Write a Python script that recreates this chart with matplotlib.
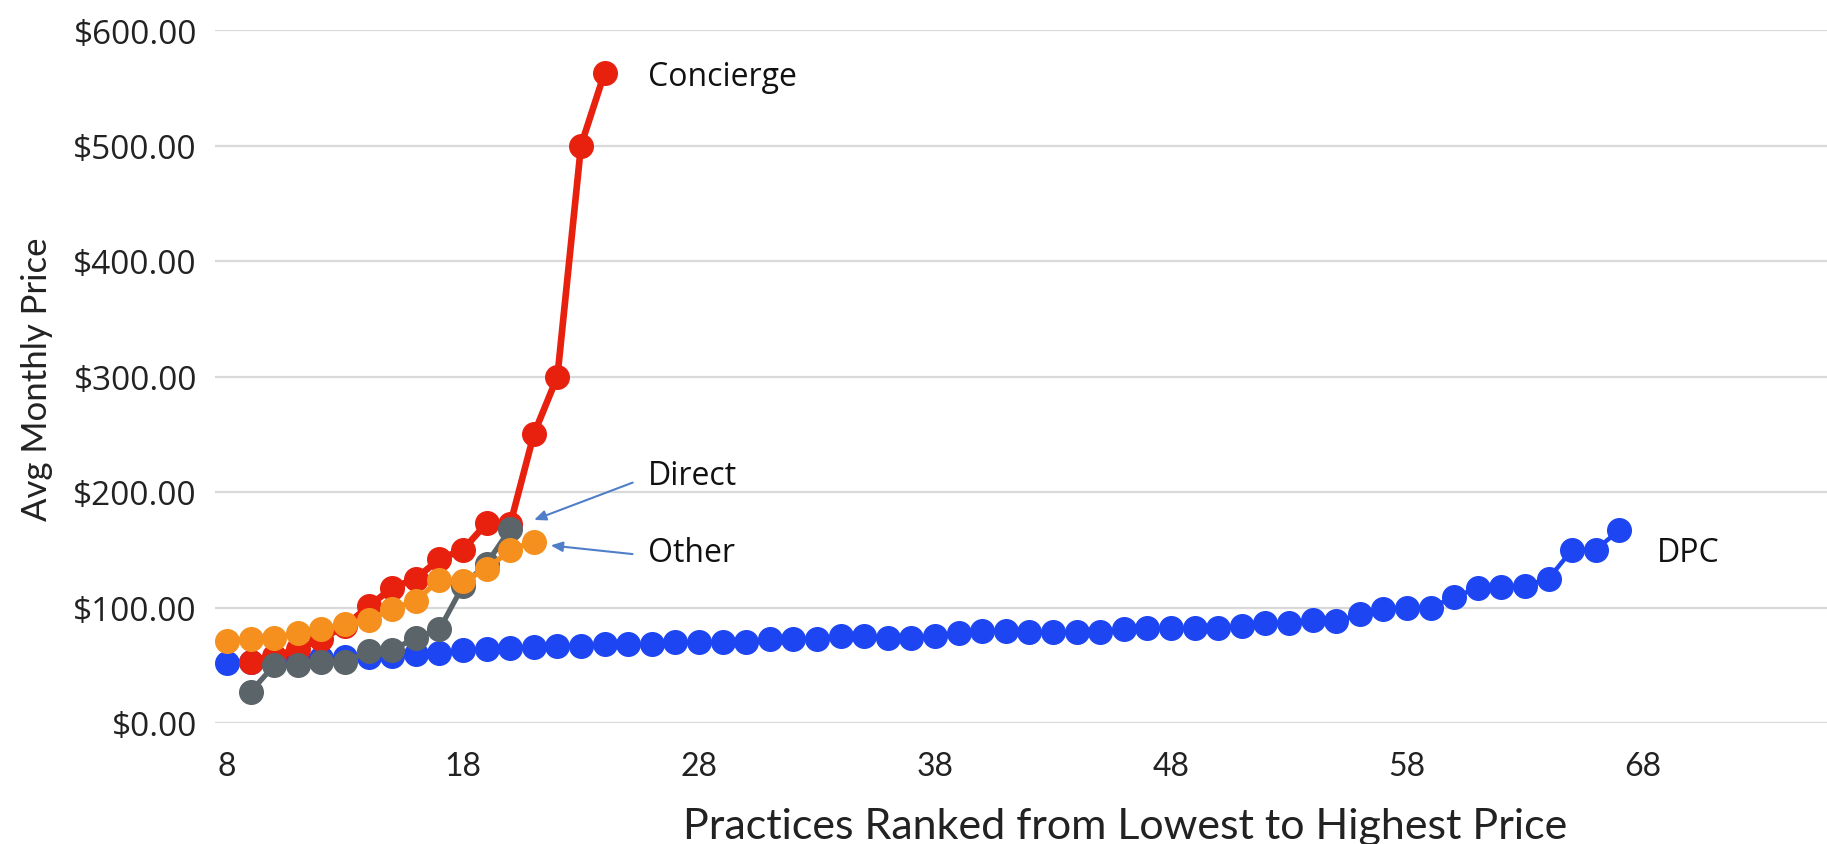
import matplotlib
matplotlib.use("Agg")
import matplotlib.pyplot as plt

# practice rank -> average monthly price, one list per practice type
dpc_rank = list(range(8, 68))
dpc_price = [52, 53, 54, 55, 56, 57, 57, 58, 60, 61, 63, 64, 65, 66,
             67, 67, 68, 68, 68, 70, 70, 70, 70, 73, 73, 73, 75, 75, 74, 74,
             75, 78, 80, 80, 79, 79, 79, 79, 81, 82, 82, 82, 82, 84, 87, 87,
             89, 88, 94, 99, 100, 100, 109, 117, 118, 119, 125, 150, 150, 167]

concierge_rank = list(range(9, 25))
concierge_price = [53, 58, 64, 73, 84, 101, 117, 125, 142, 150, 173, 172,
                   250, 300, 500, 563]

direct_rank = list(range(9, 21))
direct_price = [27, 50, 50, 53, 53, 62, 63, 74, 81, 119, 138, 168]

other_rank = list(range(8, 22))
other_price = [71, 73, 74, 78, 81, 86, 89, 99, 106, 124, 123, 133, 150, 157]

x_ticks = [8, 18, 28, 38, 48, 58, 68]
y_ticks = [0, 100, 200, 300, 400, 500, 600]

W, H = 1827, 845
fig = plt.figure(figsize=(W / 100, H / 100), dpi=100)
ax = fig.add_axes([215 / W, 1 - 724 / H, 1 - 215 / W, (724 - 31) / H])

ms = 17
ax.plot(dpc_rank, dpc_price, color="#1d46f2", lw=3.2, marker="o", ms=ms, zorder=3)
ax.plot(concierge_rank, concierge_price, color="#e8210f", lw=4.8, marker="o", ms=ms, zorder=4)
ax.plot(direct_rank, direct_price, color="#5b6469", lw=3.8, marker="o", ms=ms, zorder=5)
ax.plot(other_rank, other_price, color="#f5901f", lw=3.8, marker="o", ms=ms, zorder=6)

ax.set_xlim(7.49, 75.8)
ax.set_ylim(0, 600)
ax.set_xticks(x_ticks)
ax.set_xticklabels([str(t) for t in x_ticks], family="Lato", fontsize=23)
ax.set_yticks(y_ticks)
ax.set_yticklabels([f"${v:.2f}" for v in y_ticks], family="Open Sans", fontsize=24)
ax.tick_params(axis="both", length=0, colors="#222222")
ax.tick_params(axis="x", pad=20)
ax.tick_params(axis="y", pad=13)
ax.grid(axis="y", color="#d9d9d9", lw=1.6)
ax.set_axisbelow(True)
for s in ax.spines.values():
    s.set_visible(False)

# series labels and callout arrows
lab = dict(family="Open Sans", fontsize=23, color="#111111", va="center", ha="left")
ax.text(25.85, 560, "Concierge", **lab)
ax.text(25.85, 214, "Direct", **lab)
ax.text(25.85, 148, "Other", **lab)
ax.text(68.6, 148, "DPC", **lab)

arrow = dict(arrowstyle="-|>,head_length=0.7,head_width=0.3", color="#4f7fc9", lw=1.5)
ax.annotate("", xy=(20.9, 175), xytext=(25.3, 209), arrowprops=arrow)
ax.annotate("", xy=(21.6, 154), xytext=(25.3, 146), arrowprops=arrow)

fig.text(37 / W, 1 - 379 / H, "Avg Monthly Price", family="Lato", fontsize=25,
         rotation=90, ha="center", va="center", color="#222222")
fig.text(1125 / W, 1 - 827 / H, "Practices Ranked from Lowest to Highest Price",
         family="Lato", fontsize=31, ha="center", va="center", color="#222222")

fig.savefig("out.png", dpi=100, facecolor="white")
